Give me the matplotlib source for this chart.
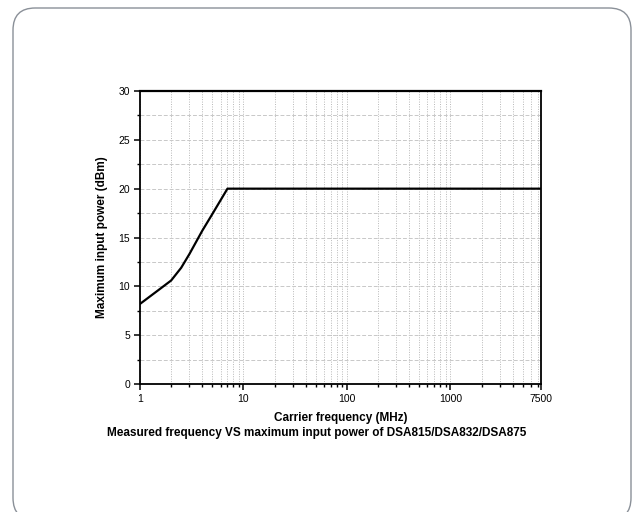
import matplotlib
matplotlib.use("Agg")
import matplotlib.pyplot as plt
from matplotlib.patches import FancyBboxPatch
from matplotlib.ticker import FixedLocator, LogLocator, MultipleLocator, NullFormatter

plt.rcParams['font.family'] = ['Liberation Sans', 'DejaVu Sans']

# Maximum input power curve
freq_mhz = [1, 1.5, 2, 2.5, 3, 4, 5, 7, 7500]
power_dbm = [8.2, 9.6, 10.6, 11.9, 13.3, 15.7, 17.4, 20.0, 20.0]

x_ticks = [1, 10, 100, 1000, 7500]
x_tick_labels = ["1", "10", "100", "1000", "7500"]
y_ticks = [0, 5, 10, 15, 20, 25, 30]

W, H = 633, 512
fig = plt.figure(figsize=(W / 100, H / 100), dpi=100)
fig.patch.set_facecolor("white")

# rounded frame around the figure (bottom edge runs past the canvas)
frame = FancyBboxPatch((13 / W, -8 / H), 618 / W, 512 / H,
                       boxstyle="round,pad=0,rounding_size=0.035",
                       transform=fig.transFigure, fill=False,
                       edgecolor="#8a9098", linewidth=1.0,
                       mutation_aspect=W / H)
fig.patches.append(frame)

ax = fig.add_axes([140 / W, 1 - 384 / H, 401 / W, 293 / H])
ax.plot(freq_mhz, power_dbm, color="black", linewidth=1.6)

ax.set_xscale("log")
ax.set_xlim(1, 7500)
ax.set_ylim(0, 30)

ax.xaxis.set_major_locator(FixedLocator(x_ticks))
ax.set_xticklabels(x_tick_labels)
ax.xaxis.set_minor_locator(LogLocator(base=10, subs=range(2, 10), numticks=20))
ax.xaxis.set_minor_formatter(NullFormatter())
ax.yaxis.set_major_locator(FixedLocator(y_ticks))
ax.yaxis.set_minor_locator(MultipleLocator(2.5))

ax.grid(True, which="both", axis="x", color="#b8b8b8", linestyle=(0, (1, 1.5)), linewidth=0.7)
ax.grid(True, which="both", axis="y", color="#c8c8c8", linestyle=(0, (4, 2)), linewidth=0.7)
ax.set_axisbelow(True)

for side in ("left", "bottom", "right"):
    ax.spines[side].set_linewidth(1.3)
ax.spines["top"].set_linewidth(1.6)

ax.tick_params(axis="both", which="major", direction="out", length=4, width=1.1,
               labelsize=7.5, colors="black", pad=3)
ax.tick_params(axis="both", which="minor", direction="out", length=2.5, width=1.0)

ax.set_ylabel("Maximum input power (dBm)", fontsize=8.5, fontweight="bold", labelpad=8)
ax.set_xlabel("Carrier frequency (MHz)", fontsize=8.5, fontweight="bold", labelpad=6)

fig.text(0.5, 1 - 433 / H,
         "Measured frequency VS maximum input power of DSA815/DSA832/DSA875",
         ha="center", va="center", fontsize=8.5, fontweight="bold")

fig.savefig("out.png", dpi=100, facecolor="white")
